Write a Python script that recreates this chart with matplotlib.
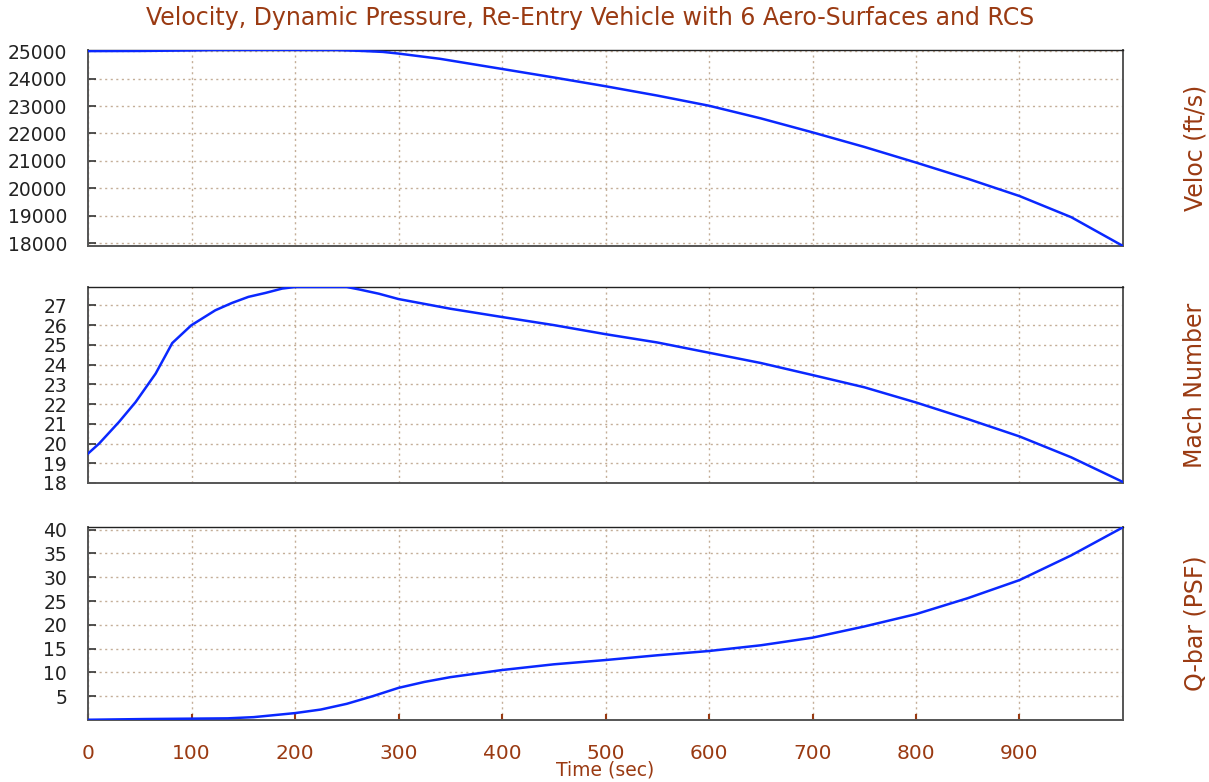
import matplotlib
matplotlib.use("Agg")
import matplotlib.pyplot as plt

# ── data ─────────────────────────────────────────────────────────
t_vel = [0, 50, 100, 120, 180, 240, 265, 285, 300, 340, 400, 450, 500, 550,
         600, 650, 700, 750, 800, 850, 900, 950, 1000]
vel = [25000, 25005, 25025, 25040, 25045, 25040, 25005, 24970, 24910, 24720,
       24350, 24040, 23720, 23380, 23010, 22550, 22040, 21510, 20940, 20350,
       19720, 18950, 17900]

t_mach = [0, 10.6, 29.9, 46, 65.3, 75, 81.4, 99.8, 123, 139, 155, 171.5, 187.6,
          200, 250, 261.7, 281, 300, 350, 400, 450, 500, 550, 600, 650, 700,
          750, 800, 850, 900, 950, 1000]
mach = [19.49, 19.99, 21.09, 22.1, 23.54, 24.47, 25.09, 25.99, 26.75, 27.12,
        27.43, 27.63, 27.85, 27.93, 27.93, 27.81, 27.59, 27.32, 26.83, 26.41,
        26.0, 25.54, 25.12, 24.6, 24.08, 23.47, 22.85, 22.08, 21.24, 20.36,
        19.3, 18.05]

t_q = [0, 55, 135, 160, 200, 225, 250, 275, 300, 325, 350, 400, 450, 500, 550,
       600, 650, 700, 750, 800, 850, 900, 950, 1000]
qbar = [0.05, 0.2, 0.35, 0.6, 1.45, 2.2, 3.4, 5.0, 6.75, 8.0, 9.0, 10.5, 11.7,
        12.6, 13.6, 14.5, 15.7, 17.3, 19.65, 22.25, 25.6, 29.4, 34.6, 40.5]

x_ticks = list(range(0, 1000, 100))
vel_ticks = list(range(18000, 25001, 1000))
mach_ticks = list(range(18, 28))
q_ticks = list(range(5, 41, 5))

TITLE = "Velocity, Dynamic Pressure, Re-Entry Vehicle with 6 Aero-Surfaces and RCS"

BROWN = "#9A3A12"
BLUE = "#0A28FF"
GRID = "#C4AE98"
SPINE = "#555555"

plt.rcParams["font.family"] = "DejaVu Sans"

fig = plt.figure(figsize=(12.09, 7.82), dpi=100)
W, H = 1209, 782


def panel(top, bottom):
    left, right = 88, 1123
    return fig.add_axes([left / W, 1 - bottom / H, (right - left) / W, (bottom - top) / H])


panels = [
    (panel(50, 246), t_vel, vel, vel_ticks, (17900, 25040), "Veloc (ft/s)"),
    (panel(287, 483), t_mach, mach, mach_ticks, (18, 27.93), "Mach Number"),
    (panel(527, 720), t_q, qbar, q_ticks, (0, 40.56), "Q-bar (PSF)"),
]

for i, (ax, tx, ty, yt, ylim, lab) in enumerate(panels):
    ax.plot(tx, ty, color=BLUE, lw=1.8, zorder=3)
    ax.set_xlim(0, 1000)
    ax.set_ylim(*ylim)
    ax.set_xticks(x_ticks)
    ax.set_yticks(yt)
    ax.grid(True, color=GRID, ls=(0, (1.5, 2.5)), lw=1.0)
    for s in ax.spines.values():
        s.set_color(SPINE)
        s.set_linewidth(1.4)
    ax.spines["top"].set_color("#222222")
    ax.spines["top"].set_linewidth(1.0)
    ax.tick_params(axis="y", direction="in", length=6, width=1.2, color="#333333",
                   labelsize=13.5, labelcolor="#222222", pad=15)
    if i < 2:
        ax.tick_params(axis="x", length=0, labelbottom=False)
    else:
        ax.tick_params(axis="x", direction="in", length=4, width=1.5, color=BROWN,
                       labelsize=14.5, labelcolor=BROWN, pad=17)
    ax.text((1195 - 88) / 1035, 0.5, lab, transform=ax.transAxes, rotation=90,
            ha="center", va="center", fontsize=17, color=BROWN)

fig.text(590 / W, 1 - 18 / H, TITLE, ha="center", va="center", fontsize=17, color=BROWN)
fig.text(605 / W, 2 / H, "Time (sec)", ha="center", va="bottom", fontsize=13.5, color=BROWN)

fig.savefig("out.png", dpi=100)
